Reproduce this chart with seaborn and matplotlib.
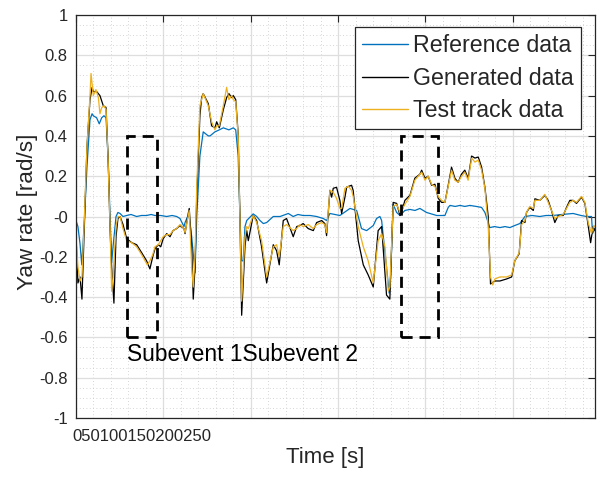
import numpy as np
import pandas as pd
import matplotlib
matplotlib.use("Agg")
import matplotlib.pyplot as plt
import seaborn as sns
from matplotlib.ticker import MultipleLocator
from matplotlib.patches import Rectangle

# ---------------- data ----------------
ref_t = [0, 1.1, 2.3, 3.3, 4.6, 6.3, 8.0, 9.2, 9.9, 11.8, 13.3, 14.7, 16.0, 17.2, 18.3,
         19.5, 20.4, 21.2, 22.9, 24.0, 25.2, 26.9, 29.0, 31.5, 34.7, 37.5, 40.4, 43.0,
         45.2, 48.5, 51.9, 55.0, 57.6, 59.5, 61.8, 62.4, 63.9, 64.8, 66.2, 68.1, 69.1,
         70.9, 72.8, 75.7, 76.7, 79.5, 82.0, 84.3, 87.5, 90.0, 91.4, 92.8, 93.8, 94.8,
         95.7, 96.7, 97.7, 101.4, 103.4, 105.3, 107.2, 109.1, 112.9, 116.8, 121.5,
         124.3, 127.0, 130.0, 134.0, 137.7, 141.5, 143.4, 145.3, 151.0, 156.8, 160.6,
         163.4, 166.3, 170.1, 172.0, 173.9, 174.9, 177.7, 179.2, 180.0, 181.5, 183.5,
         185.4, 188.2, 191.1, 194.0, 196.8, 200.6, 206.4, 211.1, 213.0, 214.0, 217.0,
         219.7, 222.5, 225.4, 229.0, 232.1, 234.0, 236.8, 239.5, 242.6, 245.5, 248.3,
         251.0, 254.0, 256.9, 261.0, 265.4, 269.0, 273.0, 278.0, 284.5, 289.0, 292.2,
         295.0, 295.6, 297.0]
ref_y = [-0.02, -0.05, -0.135, -0.24, -0.05, 0.25, 0.48, 0.51, 0.50, 0.49, 0.46, 0.49,
         0.50, 0.49, 0.30, 0.0, -0.23, -0.15, 0.0, 0.02, 0.015, 0.0, 0.005, 0.01, 0.0,
         0.005, 0.005, 0.01, 0.005, 0.005, 0.0, 0.005, 0.0, -0.01, -0.05, -0.03, 0.0,
         0.0, -0.1, -0.28, 0.0, 0.30, 0.42, 0.40, 0.40, 0.42, 0.43, 0.44, 0.43, 0.44,
         0.43, 0.30, 0.0, -0.22, -0.22, -0.05, -0.02, 0.013, 0.0, -0.02, -0.035, -0.03,
         0.0, 0.0, 0.015, 0.0, 0.01, 0.005, 0.005, 0.0, -0.01, -0.02, 0.015, 0.005,
         0.04, 0.03, -0.06, -0.07, -0.045, -0.01, 0.0, -0.02, -0.25, -0.38, -0.30, 0.06,
         0.02, 0.005, 0.03, 0.035, 0.03, 0.04, 0.02, 0.005, 0.005, 0.045, 0.055, 0.05,
         0.055, 0.05, 0.055, 0.05, 0.045, 0.02, -0.055, -0.05, -0.055, -0.05, -0.055,
         -0.045, -0.035, 0.0, 0.005, 0.0, 0.005, 0.005, 0.01, 0.015, 0.005, 0.0, 0.0,
         -0.085, -0.06]

gen_t = [0, 1.1, 2.3, 3.4, 4.6, 6.3, 8.0, 9.2, 9.9, 11.8, 13.7, 15.6, 17.2, 18.5, 19.5,
         20.4, 21.7, 22.9, 24.0, 25.2, 26.9, 29.0, 31.9, 34.7, 37.6, 40.4, 42.3, 43.9,
         45.2, 47.1, 48.5, 49.9, 51.9, 53.8, 55.5, 57.6, 59.5, 61.8, 62.4, 63.9, 64.8,
         66.2, 67.1, 68.1, 69.1, 70.9, 71.9, 72.8, 75.7, 77.6, 79.5, 80.5, 82.0, 84.3,
         86.2, 87.5, 89.1, 90.0, 91.4, 92.8, 93.8, 94.8, 96.7, 97.7, 98.6, 101.4, 103.4,
         106.2, 109.1, 112.9, 114.8, 116.3, 118.6, 120.5, 124.3, 126.3, 128.1, 130.0,
         132.9, 135.8, 137.7, 140.6, 142.4, 143.4, 145.3, 146.3, 147.2, 149.1, 151.0,
         152.0, 153.9, 154.9, 157.7, 158.6, 161.5, 164.4, 167.2, 170.1, 172.9, 174.9,
         177.7, 179.6, 181.5, 183.5, 185.4, 186.3, 188.2, 191.1, 193.9, 196.8, 197.8,
         199.7, 201.5, 203.5, 205.4, 207.3, 209.2, 211.1, 213.0, 214.9, 216.8, 218.7,
         220.6, 222.5, 224.4, 226.4, 228.3, 230.2, 232.1, 234.0, 235.9, 237.2, 239.7,
         242.6, 246.4, 249.3, 251.1, 253.6, 255.0, 256.9, 257.8, 259.7, 261.7, 262.6,
         265.4, 268.3, 270.2, 272.1, 274.0, 275.9, 278.8, 280.7, 282.6, 284.5, 286.4,
         289.3, 291.2, 293.1, 294.5, 295.9, 297.0]
gen_y = [-0.10, -0.33, -0.30, -0.41, -0.10, 0.35, 0.58, 0.64, 0.62, 0.62, 0.60, 0.55,
         0.54, 0.26, -0.07, -0.25, -0.43, -0.10, -0.01, 0.0, -0.04, -0.11, -0.13, -0.14,
         -0.18, -0.22, -0.26, -0.20, -0.16, -0.14, -0.15, -0.11, -0.085, -0.10, -0.07,
         -0.06, -0.045, -0.06, -0.085, 0.0, 0.04, -0.15, -0.41, -0.25, 0.10, 0.50, 0.59,
         0.61, 0.56, 0.45, 0.44, 0.47, 0.44, 0.53, 0.59, 0.61, 0.59, 0.60, 0.58, 0.41,
         0.0, -0.49, -0.15, -0.07, -0.12, 0.005, -0.02, -0.15, -0.33, -0.14, -0.17,
         -0.24, -0.02, -0.01, -0.10, -0.05, -0.045, -0.035, -0.06, -0.07, -0.03, -0.02,
         -0.035, -0.095, 0.13, 0.096, 0.14, 0.145, 0.08, 0.015, 0.096, 0.146, 0.155,
         0.13, -0.12, -0.24, -0.29, -0.35, -0.07, -0.05, -0.39, -0.41, 0.07, 0.065,
         0.005, 0.02, 0.08, 0.105, 0.19, 0.21, 0.23, 0.19, 0.20, 0.155, 0.16, 0.09,
         0.07, 0.07, 0.155, 0.245, 0.19, 0.17, 0.21, 0.23, 0.19, 0.30, 0.29, 0.295,
         0.245, 0.145, 0.0, -0.335, -0.32, -0.32, -0.31, -0.30, -0.22, -0.185, -0.02,
         -0.03, 0.02, 0.045, 0.03, 0.088, 0.08, 0.105, 0.08, 0.03, -0.03, 0.005, 0.005,
         0.045, 0.08, 0.08, 0.065, 0.096, 0.065, -0.045, -0.13, -0.05, -0.07]

test_t = [0, 1.1, 2.3, 3.4, 4.6, 6.3, 8.0, 8.6, 9.9, 11.4, 12.8, 13.7, 14.7, 16.0, 17.2,
          18.3, 19.5, 20.4, 21.2, 22.9, 24.0, 25.2, 26.9, 29.0, 31.9, 34.7, 37.6, 40.8,
          42.3, 43.9, 45.2, 47.1, 49.9, 51.9, 53.8, 55.5, 57.6, 59.5, 61.8, 62.4, 63.9,
          64.8, 66.2, 67.1, 68.1, 69.1, 70.9, 72.8, 75.7, 77.6, 79.5, 80.5, 82.0, 84.3,
          86.2, 87.5, 89.1, 90.0, 91.4, 92.8, 93.8, 94.8, 96.7, 97.7, 98.6, 101.4, 103.4,
          106.2, 109.1, 112.9, 114.8, 116.3, 118.6, 120.5, 124.3, 126.3, 128.1, 130.0,
          132.9, 135.8, 137.7, 140.6, 142.4, 143.4, 145.3, 147.2, 149.1, 151.0, 152.0,
          153.9, 155.8, 157.7, 158.6, 161.5, 164.4, 167.2, 170.1, 172.9, 174.9, 176.8,
          178.7, 179.6, 181.5, 183.5, 185.4, 186.3, 188.2, 191.1, 193.9, 196.8, 197.8,
          199.7, 201.5, 203.5, 205.4, 207.3, 209.2, 211.1, 213.0, 214.9, 216.8, 218.7,
          220.6, 222.5, 224.4, 226.4, 228.3, 230.2, 232.1, 234.0, 235.9, 237.2, 238.5,
          239.7, 242.6, 246.4, 249.3, 251.1, 253.6, 255.0, 256.9, 257.8, 259.7, 261.7,
          262.6, 265.4, 268.3, 270.2, 272.1, 274.0, 275.9, 278.8, 280.7, 282.6, 284.5,
          286.4, 289.3, 291.2, 293.1, 295.0, 296.3, 297.0]
test_y = [-0.10, -0.25, -0.32, -0.30, -0.05, 0.35, 0.60, 0.71, 0.60, 0.63, 0.59, 0.51,
          0.54, 0.55, 0.53, 0.30, -0.05, -0.37, -0.30, -0.05, 0.0, 0.0, -0.06, -0.12,
          -0.13, -0.15, -0.19, -0.24, -0.22, -0.19, -0.15, -0.14, -0.10, -0.09, -0.09,
          -0.07, -0.06, -0.04, -0.06, -0.08, -0.01, 0.03, -0.25, -0.35, -0.20, 0.15,
          0.55, 0.61, 0.55, 0.47, 0.43, 0.45, 0.45, 0.55, 0.64, 0.58, 0.60, 0.58, 0.57,
          0.40, 0.0, -0.42, -0.10, -0.05, -0.06, 0.005, -0.03, -0.12, -0.30, -0.15,
          -0.14, -0.20, -0.05, -0.04, -0.07, -0.06, -0.04, -0.05, -0.04, -0.06, -0.04,
          -0.03, -0.04, -0.08, 0.13, 0.12, 0.09, 0.04, 0.04, 0.14, 0.15, 0.13, 0.10,
          -0.05, -0.15, -0.22, -0.33, -0.12, -0.085, -0.15, -0.37, -0.35, 0.05, 0.06,
          0.02, 0.03, 0.06, 0.10, 0.18, 0.21, 0.22, 0.18, 0.20, 0.16, 0.15, 0.10, 0.08,
          0.07, 0.15, 0.23, 0.18, 0.17, 0.20, 0.22, 0.18, 0.29, 0.27, 0.28, 0.23, 0.14,
          -0.05, -0.30, -0.34, -0.31, -0.30, -0.30, -0.29, -0.22, -0.18, -0.04, -0.02,
          0.02, 0.05, 0.04, 0.08, 0.08, 0.11, 0.07, 0.03, -0.01, 0.0, 0.01, 0.04, 0.07,
          0.08, 0.07, 0.10, 0.07, -0.03, -0.085, -0.045, -0.05]

series_names = ["Reference data", "Generated data", "Test track data"]
series_colors = ["#0072BD", "#000000", "#EDB120"]
x_tick_labels = ["0", "50", "100", "150", "200", "250"]
subevent_labels = ["Subevent 1", "Subevent 2"]
subevent_t0 = [29.0, 185.9]
subevent_t1 = [46.5, 206.9]
subevent_ylo = [-0.6, -0.6]
subevent_yhi = [0.4, 0.4]

# ---------------- figure ----------------
sns.set_style("white")
plt.rcParams["font.family"] = ["Liberation Sans", "DejaVu Sans"]

W, H = 600, 478
fig = plt.figure(figsize=(W / 100, H / 100), dpi=100)
ax = fig.add_axes([76 / W, 1 - 418 / H, (595 - 76) / W, (418 - 15) / H])

frames = []
for name, t, y in zip(series_names, [ref_t, gen_t, test_t], [ref_y, gen_y, test_y]):
    frames.append(pd.DataFrame({"t": t, "y": y, "series": name}))
df = pd.concat(frames, ignore_index=True)

sns.lineplot(data=df, x="t", y="y", hue="series", hue_order=series_names,
             palette=series_colors, estimator=None, sort=False, linewidth=0.9,
             ax=ax, legend=True)

for x0, x1, y0, y1 in zip(subevent_t0, subevent_t1, subevent_ylo, subevent_yhi):
    ax.add_patch(Rectangle((x0, y0), x1 - x0, y1 - y0, fill=False, edgecolor="black",
                           linewidth=2.0, linestyle=(0, (4, 2.5)), zorder=5))

ax.text(subevent_t0[0], -0.683, "".join(subevent_labels), fontsize=16.4,
        ha="left", va="center", color="#000000")

ax.set_xlim(0, 297)
ax.set_ylim(-1, 1)
ax.xaxis.set_major_locator(MultipleLocator(50))
ax.xaxis.set_minor_locator(MultipleLocator(10))
ax.yaxis.set_major_locator(MultipleLocator(0.2))
ax.yaxis.set_minor_locator(MultipleLocator(0.05))
ax.set_xticklabels([])
ax.set_yticks(np.arange(-1, 1.01, 0.2))
ax.set_yticklabels([("%g" % round(v, 1)) for v in np.arange(-1, 1.01, 0.2)])
ax.tick_params(axis="both", which="major", direction="in", length=5, width=0.8,
               color="#262626", labelsize=12, labelcolor="#262626",
               top=True, right=True, pad=6)
ax.tick_params(axis="both", which="minor", length=0, top=True, right=True)
ax.grid(True, which="major", color="#dedede", linewidth=0.9, linestyle="-")
ax.grid(True, which="minor", color="#c8c8c8", linewidth=0.6, linestyle=(0, (1, 3)))
ax.set_axisbelow(True)
for sp in ax.spines.values():
    sp.set_color("#262626")
    sp.set_linewidth(0.9)

ax.set_xlabel("")
ax.set_ylabel("Yaw rate [rad/s]", fontsize=16.2, color="#262626")
ax.yaxis.set_label_coords(38 / W, 1 - 212 / H, transform=fig.transFigure)

fig.text(325 / W, 1 - 458 / H, "Time [s]", fontsize=16, color="#262626",
         ha="center", va="center")
fig.text(72 / W, 1 - 436.5 / H, "".join(x_tick_labels), fontsize=12, color="#262626",
         ha="left", va="center")

handles, labels = ax.get_legend_handles_labels()
leg = ax.legend(handles, labels, loc="upper right",
                bbox_to_anchor=(581 / W, 1 - 27 / H), bbox_transform=fig.transFigure,
                borderaxespad=0, fontsize=16.7, frameon=True, fancybox=False,
                framealpha=1, edgecolor="#262626", handlelength=2.0,
                handletextpad=0.22, borderpad=0.3, labelspacing=0.42)
leg.get_frame().set_linewidth(0.9)
for line in leg.get_lines():
    line.set_linewidth(1.0)

fig.savefig("out.png", dpi=100)
